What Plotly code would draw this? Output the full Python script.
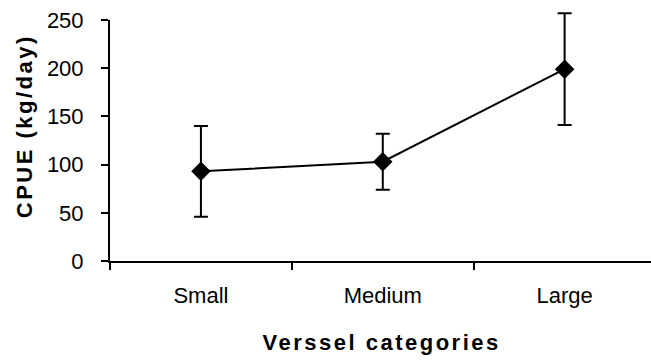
import plotly.graph_objects as go

# Vessel size classes and their mean catch per unit effort (kg/day) with error
categories = ["Small", "Medium", "Large"]
cpue_mean = [93, 103, 199]
cpue_err = [47, 29, 58]
y_ticks = [0, 50, 100, 150, 200, 250]

W, H = 651, 363
ML, MR, MT, MB = 110, 0, 20, 102
FONT = "Arial, Liberation Sans, sans-serif"


def px_to_paper_x(px):
    return (px - ML) / (W - ML - MR)


def px_to_paper_y(py):
    return (H - MB - py) / (H - MT - MB)


fig = go.Figure(
    go.Scatter(
        x=categories,
        y=cpue_mean,
        mode="lines+markers",
        line=dict(color="black", width=2),
        marker=dict(symbol="diamond", size=15, color="black"),
        error_y=dict(type="data", array=cpue_err, symmetric=True,
                     color="black", thickness=2, width=7),
        cliponaxis=False,
        showlegend=False,
    )
)

axis_common = dict(
    showline=True, linewidth=2, linecolor="black",
    ticks="outside", ticklen=7, tickwidth=2, tickcolor="black",
    showgrid=False, zeroline=False,
    tickfont=dict(family=FONT, size=22, color="black"),
)

fig.update_xaxes(
    type="category",
    categoryorder="array", categoryarray=categories,
    range=[-0.5, 2.475],
    tickson="boundaries",
    ticklabelstandoff=14,
    **axis_common,
)
fig.update_yaxes(
    range=[0, 250],
    tickvals=y_ticks,
    ticklabelstandoff=13,
    **axis_common,
)

title_font = dict(family=FONT, size=22, color="black", weight="bold")
fig.add_annotation(
    text="Verssel categories", xref="paper", yref="paper",
    x=px_to_paper_x(381), y=px_to_paper_y(342),
    xanchor="center", yanchor="middle", showarrow=False, font=title_font,
)
fig.add_annotation(
    text="CPUE (kg/day)", xref="paper", yref="paper",
    x=px_to_paper_x(24), y=px_to_paper_y(126), textangle=-90,
    xanchor="center", yanchor="middle", showarrow=False, font=title_font,
)

fig.update_layout(
    width=W, height=H,
    margin=dict(l=ML, r=MR, t=MT, b=MB),
    paper_bgcolor="white", plot_bgcolor="white",
)

# Spaced-out lettering for the axis titles, and let the error bars run
# past the top of the plotting area instead of being cut off.
post_js = """
document.querySelectorAll('.annotation-text').forEach(function (t) {
    t.style.letterSpacing = '2.5px';
});
document.querySelectorAll('.plot, .scatterlayer, .scatterlayer *').forEach(function (e) {
    e.removeAttribute('clip-path');
});
"""

fig.write_html("out.html", post_script=post_js)
